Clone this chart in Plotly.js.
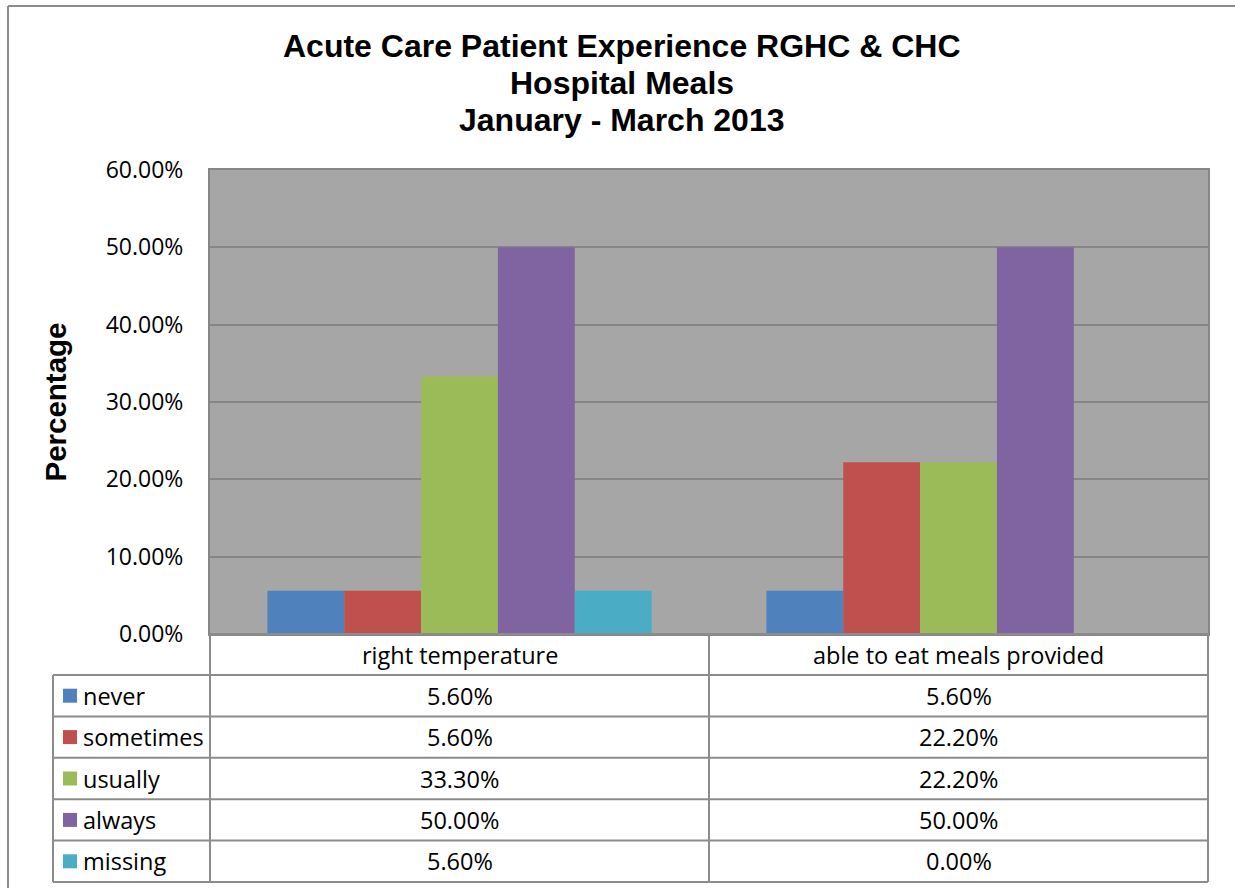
<!DOCTYPE html>
<html>
<head>
<meta charset="utf-8">
<script src="https://cdn.plot.ly/plotly-3.0.1.min.js"></script>
<style>
  html, body { margin: 0; padding: 0; background: #fff; }
  #plot { width: 1235px; height: 888px; }
</style>
</head>
<body>
<div id="plot"></div>
<script>
// Survey data: Jan - Mar 2013
var categories = ["right temperature", "able to eat meals provided"];
var seriesNames = ["never", "sometimes", "usually", "always", "missing"];
var never = [5.6, 5.6];
var sometimes = [5.6, 22.2];
var usually = [33.3, 22.2];
var always = [50.0, 50.0];
var missing = [5.6, 0.0];
var colors = ["#4F81BD", "#C0504D", "#9BBB59", "#8064A2", "#4BACC6"];

var values = [never, sometimes, usually, always, missing];

var W = 1235, H = 888;
function px(x) { return x / W; }
function py(y) { return 1 - y / H; }

// plot box in pixels
var boxL = 210, boxR = 1208, boxT = 170, boxB = 634;
var rowTop = 675, rowH = 41.4, tableLeft = 53;

var data = values.map(function (v, i) {
  return {
    x: categories,
    y: v,
    type: "bar",
    name: seriesNames[i],
    marker: { color: colors[i] },
    hoverinfo: "skip"
  };
});

var lineColor = "#8C8C8C";
var cellFont = { family: "'Open Sans', 'Noto Sans', sans-serif", size: 23.5, color: "#000" };

var shapes = [];
var annotations = [];

function hline(y, x0, x1) {
  shapes.push({ type: "line", xref: "paper", yref: "paper", x0: px(x0), x1: px(x1), y0: py(y), y1: py(y),
    line: { color: lineColor, width: 2 } });
}
function vline(x, y0, y1) {
  shapes.push({ type: "line", xref: "paper", yref: "paper", x0: px(x), x1: px(x), y0: py(y0), y1: py(y1),
    line: { color: lineColor, width: 2 } });
}

// outer chart border
hline(6, 8, 1240);
vline(8, 6, 895);

// data table grid
var tableBottom = rowTop + rowH * seriesNames.length;
hline(boxB, boxL, boxR);
for (var r = 0; r <= seriesNames.length; r++) {
  hline(rowTop + rowH * r, tableLeft, boxR);
}
vline(tableLeft, rowTop, tableBottom);
vline(boxL, boxB, tableBottom);
vline((boxL + boxR) / 2, boxB, tableBottom);
vline(boxR, boxB, tableBottom);

// header row: categories
categories.forEach(function (c) {
  annotations.push({ xref: "x", yref: "paper", x: c, y: py((boxB + rowTop) / 2),
    text: c, showarrow: false, font: cellFont, xanchor: "center", yanchor: "middle" });
});

// value rows with legend keys
seriesNames.forEach(function (s, i) {
  var yc = rowTop + rowH * i + rowH / 2;
  shapes.push({ type: "rect", xref: "paper", yref: "paper",
    x0: px(63), x1: px(77), y0: py(yc - 7), y1: py(yc + 7),
    fillcolor: colors[i], line: { width: 0 } });
  annotations.push({ xref: "paper", yref: "paper", x: px(81), y: py(yc),
    text: s, showarrow: false, font: cellFont, xanchor: "left", yanchor: "middle" });
  values[i].forEach(function (v, j) {
    annotations.push({ xref: "x", yref: "paper", x: categories[j], y: py(yc),
      text: v.toFixed(2) + "%", showarrow: false, font: cellFont, xanchor: "center", yanchor: "middle" });
  });
});

// title lines
var titleLines = ["Acute Care Patient Experience RGHC & CHC", "Hospital Meals", "January - March 2013"];
var titleY = [46, 83, 120];
titleLines.forEach(function (t, i) {
  annotations.push({ xref: "paper", yref: "paper", x: px(622), y: py(titleY[i]),
    text: "<b>" + t + "</b>", showarrow: false, xanchor: "center", yanchor: "middle",
    font: { family: "'Liberation Sans', Arial, sans-serif", size: 32, color: "#000" } });
});

var layout = {
  width: W,
  height: H,
  margin: { l: 0, r: 0, t: 0, b: 0 },
  paper_bgcolor: "#fff",
  plot_bgcolor: "#A6A6A6",
  showlegend: false,
  barmode: "group",
  bargap: 0.23,
  bargroupgap: 0,
  xaxis: {
    domain: [px(boxL), px(boxR)],
    showticklabels: false,
    ticks: "",
    showgrid: false,
    showline: true,
    mirror: true,
    linecolor: "#868686",
    linewidth: 2
  },
  yaxis: {
    domain: [py(boxB), py(boxT)],
    range: [0, 60],
    dtick: 10,
    tickformat: ".2f",
    ticksuffix: "%",
    ticks: "",
    ticklabelstandoff: 20,
    tickfont: { family: "'Open Sans', 'Noto Sans', sans-serif", size: 23, color: "#000" },
    gridcolor: "#868686",
    gridwidth: 2,
    zeroline: false,
    showline: true,
    mirror: true,
    linecolor: "#868686",
    linewidth: 2,
    title: { text: "<b>Percentage</b>", standoff: 30,
      font: { family: "'Liberation Sans', Arial, sans-serif", size: 29.5, color: "#000" } }
  },
  shapes: shapes,
  annotations: annotations
};

Plotly.newPlot("plot", data, layout, { displayModeBar: false });
</script>
</body>
</html>
